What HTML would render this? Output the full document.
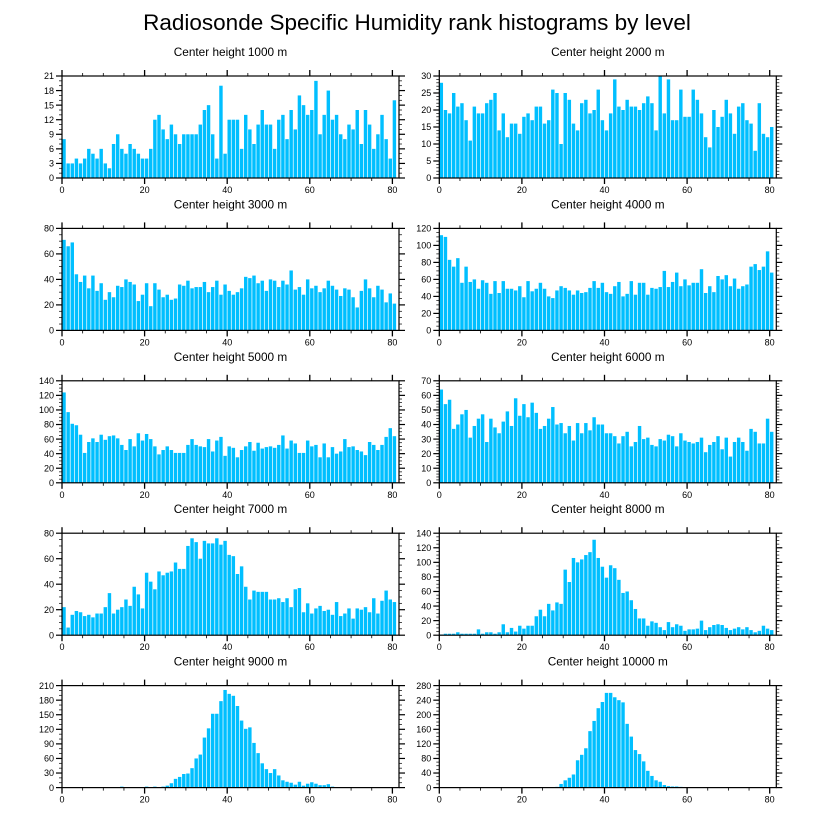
<!DOCTYPE html>
<html><head><meta charset="utf-8"><style>
html,body{margin:0;padding:0;background:#fff;}
svg{display:block;font-family:"Liberation Sans",sans-serif;}
</style></head><body>
<svg id="chart" width="816" height="824" viewBox="0 0 816 824" xmlns="http://www.w3.org/2000/svg">
<text x="417" y="30" text-anchor="middle" font-size="22.5" fill="#000">Radiosonde Specific Humidity rank histograms by level</text>
</svg>
<script>
const titles = ["Center height 1000 m","Center height 2000 m","Center height 3000 m","Center height 4000 m","Center height 5000 m","Center height 6000 m","Center height 7000 m","Center height 8000 m","Center height 9000 m","Center height 10000 m"];
const yMax = [21,30,80,120,140,70,80,140,210,280];
const yStep = [3,5,20,20,20,10,20,20,30,40];
const yMinor = [1,1,5,5,5,2,5,5,10,10];
const xTicks = [0,20,40,60,80];
const s1000 = [8,3,3,4,3,4,6,5,4,6,3,2,7,9,6,5,7,6,5,4,4,6,12,13,10,8,11,9,7,9,9,9,9,11,14,15,9,4,19,5,12,12,12,6,13,10,7,11,14,11,11,6,12,13,8,14,10,17,15,13,14,20,9,13,18,12,13,9,8,11,10,14,7,14,11,6,9,13,8,4,16,18].slice(0,81);
const s2000 = [28,20,19,25,21,22,17,11,21,19,19,22,23,25,14,19,12,16,16,13,18,19,17,21,21,16,17,26,25,10,25,23,16,14,22,23,19,20,26,17,14,19,29,21,20,23,21,21,20,22,24,22,14,30,19,29,17,17,26,18,18,26,23,19,12,9,20,15,18,23,19,13,21,22,17,16,8,22,13,12,15];
const s3000 = [71,66,69,44,38,43,33,43,31,37,24,30,26,35,34,40,38,36,23,28,37,19,37,32,26,28,24,25,36,35,39,33,34,34,38,30,34,39,28,36,31,28,30,33,42,41,43,37,39,31,40,39,34,39,36,47,32,34,28,40,33,35,30,33,39,35,32,27,33,32,26,18,31,40,33,26,35,32,22,29,21];
const s4000 = [112,110,83,75,85,56,75,57,60,49,59,56,43,58,44,58,49,49,47,52,39,58,46,49,56,49,40,38,47,52,50,47,42,47,44,45,50,58,50,56,45,43,52,57,40,43,58,42,56,56,42,50,49,51,70,51,57,68,52,60,53,56,56,72,44,52,45,64,60,65,52,61,49,52,54,75,78,71,75,93,68];
const s5000 = [124,97,81,79,66,41,56,61,56,66,59,64,65,61,52,45,60,50,68,58,67,60,50,39,45,50,45,41,41,41,52,60,52,50,49,60,43,58,63,37,50,48,35,45,50,56,44,55,47,49,50,48,52,65,47,58,54,41,41,58,50,52,35,54,35,49,40,43,60,49,50,45,43,38,56,52,45,52,63,75,64];
const s6000 = [64,54,57,37,40,47,50,31,39,44,47,28,44,38,34,42,49,39,58,46,54,45,55,48,37,39,44,52,40,41,34,39,29,41,34,41,36,45,40,40,34,34,32,27,32,35,25,28,39,30,31,26,25,30,29,33,32,25,34,29,28,27,28,31,21,26,28,32,23,31,18,28,31,28,22,37,35,27,27,44,35];
const s7000 = [22,6,16,19,18,15,16,14,17,17,22,33,17,20,22,28,23,38,32,21,49,42,36,50,47,49,50,57,52,52,70,76,73,60,74,72,72,76,71,74,63,62,48,54,38,28,35,34,34,34,28,28,29,26,29,22,36,37,18,25,17,21,23,19,20,16,26,15,17,21,13,21,20,22,18,29,17,27,35,28,26];
const s8000 = [1,2,2,2,4,2,2,2,2,8,2,4,4,2,4,15,4,10,5,13,9,13,13,26,35,26,43,34,45,43,90,73,106,100,104,110,114,131,106,94,79,96,92,76,58,60,48,36,23,23,13,19,17,11,7,18,11,15,13,6,8,8,9,20,7,11,14,15,14,10,7,9,11,8,11,7,4,6,13,9,7];
const s9000 = [1,1,1,1,1,1,1,1,1,1,1,1,1,1,2,1,1,1,1,1,2,1,2,1,2,4,9,18,22,28,29,40,60,68,103,122,152,152,178,201,193,189,168,138,121,124,92,71,50,38,30,38,25,15,12,10,6,12,4,8,11,8,5,5,7,2,1,1,1,1,1,1,1,1,1,1,1,1,1,1,1];
const s10000 = [1,1,1,1,1,1,1,1,1,1,1,1,1,1,1,1,1,1,1,1,1,1,1,1,1,1,1,1,2,10,20,27,36,75,90,108,155,183,218,235,260,260,248,240,234,175,140,103,92,72,46,32,20,16,7,4,3,3,2,1,1,1,1,1,1,1,1,1,1,1,1,1,1,1,1,1,1,1,1,1,1];
const series = [s1000,s2000,s3000,s4000,s5000,s6000,s7000,s8000,s9000,s10000];

const NS = "http://www.w3.org/2000/svg";
const svg = document.getElementById('chart');
const XMAX = 81.6, PW = 337, PH = 102;
function mk(tag, attrs, parent){const e=document.createElementNS(NS,tag);for(const k in attrs)e.setAttribute(k,attrs[k]);parent.appendChild(e);return e;}

series.forEach((vals, p) => {
  const col = p % 2, row = Math.floor(p / 2);
  const x0 = col === 0 ? 62 : 439.3;
  const y0 = 76 + row * 152.4;
  const g = mk('g', {}, svg);
  
  
  const xs = v => x0 + v / XMAX * PW;
  const ys = v => y0 + PH - v / yMax[p] * PH;
  const t = mk('text', {x: x0 + PW/2, y: y0 - 20, 'text-anchor': 'middle', 'font-size': '11.8', fill: '#000'}, g);
  t.textContent = titles[p];
  
  
  vals.forEach((v, i) => {
    if (v <= 0) return;
    const r = mk('rect', {x: xs(i) + 0.3, y: ys(v), width: (xs(i+1) - xs(i)) - 0.7, height: ys(0) - ys(v), fill: '#00BFFF'}, g);
    
    
  });
  const frame = mk('rect', {x: x0, y: y0, width: PW, height: PH, fill: 'none', stroke: '#000', 'stroke-width': 1.2}, g);
  
  
  for (let v = 0; v <= 80; v += 5) {
    const major = v % 20 === 0, L = major ? 6 : 3;
    mk('line', {x1: xs(v), x2: xs(v), y1: y0 + PH, y2: y0 + PH + L, stroke: '#000', 'stroke-width': major ? 1.3 : 0.8}, g);
    mk('line', {x1: xs(v), x2: xs(v), y1: y0, y2: y0 - L, stroke: '#000', 'stroke-width': major ? 1.3 : 0.8}, g);
  }
  xTicks.forEach(v => {
    const tl = mk('text', {x: xs(v), y: y0 + PH + 15, 'text-anchor': 'middle', 'font-size': '9', fill: '#000'}, g);
    tl.textContent = v;
    
    
  });
  for (let v = 0; v <= yMax[p] + 1e-9; v += yMinor[p]) {
    const major = Math.abs(v / yStep[p] - Math.round(v / yStep[p])) < 1e-6, L = major ? 6 : 3;
    mk('line', {x1: x0, x2: x0 - L, y1: ys(v), y2: ys(v), stroke: '#000', 'stroke-width': major ? 1.2 : 0.7}, g);
    mk('line', {x1: x0 + PW, x2: x0 + PW + L, y1: ys(v), y2: ys(v), stroke: '#000', 'stroke-width': major ? 1.2 : 0.7}, g);
  }
  for (let v = 0; v <= yMax[p]; v += yStep[p]) {
    const yl = mk('text', {x: x0 - 8, y: ys(v) + 3.2, 'text-anchor': 'end', 'font-size': '9', fill: '#000'}, g);
    yl.textContent = v;
    
    
  }
});
</script>
</body></html>
